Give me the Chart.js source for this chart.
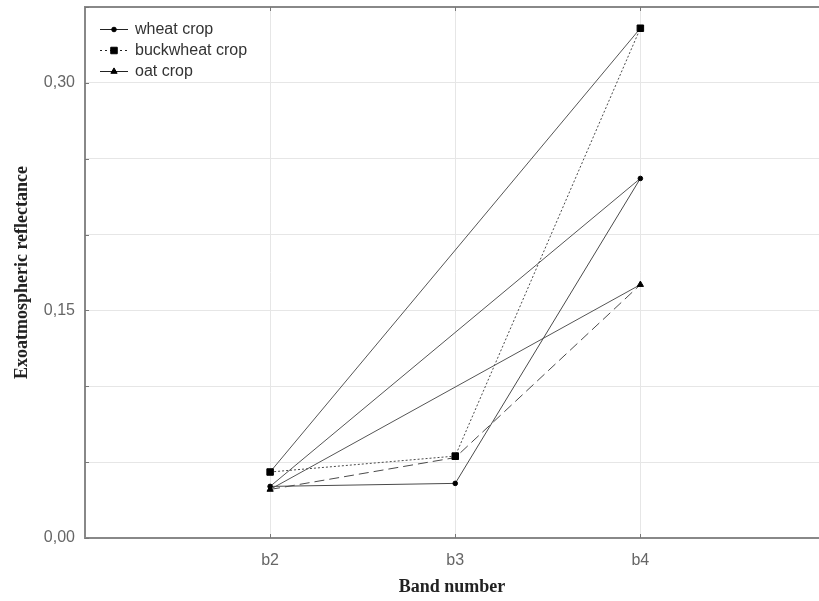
<!DOCTYPE html>
<html><head><meta charset="utf-8">
<script src="https://cdn.jsdelivr.net/npm/chart.js@4"></script>
<style>html,body{margin:0;padding:0;background:#fff}#wrap{width:819px;height:601px}</style>
</head><body><div id="wrap"><canvas id="c" width="819" height="601"></canvas></div>
<script>
const categories = ['b2','b3','b4'];
const wheat = [0.034, 0.036, 0.237];
const buckwheat = [0.0435, 0.054, 0.336];
const oat = [0.032, 0.053, 0.167];
const yTickLabels = [0.00, 0.15, 0.30];
const seriesNames = ['wheat crop','buckwheat crop','oat crop'];

const pts = arr => arr.map((v,i)=>({x:i+1,y:v}));
const ends = arr => [{x:1,y:arr[0]},{x:3,y:arr[2]}];

const lineCol = '#4a4a4a';
const styles = [
  {dash:[], ps:'circle', r:2.3},
  {dash:[2,2], ps:'rect', r:4.6},
  {dash:[10,5], ps:'triangle', r:3.6}
];
const series = [wheat, buckwheat, oat];
const datasets = [];
series.forEach((s,i)=>{
  datasets.push({label:seriesNames[i], data:pts(s), borderColor:lineCol, borderWidth:1, borderDash:styles[i].dash,
    pointStyle:styles[i].ps, pointRadius:styles[i].r, pointBackgroundColor:'#000', pointBorderColor:'#000', pointBorderWidth:1, tension:0});
});
series.forEach((s,i)=>{
  datasets.push({label:'_'+seriesNames[i], data:ends(s), borderColor:'#555', borderWidth:1, pointRadius:0, tension:0});
});

const sansFont = '"Liberation Sans", Arial, sans-serif';
const legendPlugin = {
  id:'customLegend',
  afterDraw(chart){
    const ctx = chart.ctx;
    const x0 = 100, y0 = 29, dy = 21;
    ctx.save();
    seriesNames.forEach((n,i)=>{
      const y = y0 + i*dy;
      ctx.strokeStyle = '#222'; ctx.lineWidth = 1;
      ctx.setLineDash(i===1?[2,3]:[]);
      ctx.beginPath(); ctx.moveTo(x0,y+0.5); ctx.lineTo(x0+28,y+0.5); ctx.stroke();
      ctx.setLineDash([]);
      ctx.fillStyle='#000'; ctx.strokeStyle='#000';
      Chart.helpers.drawPoint(ctx,{pointStyle:styles[i].ps, radius:styles[i].r, borderWidth:1}, x0+14, y+0.5);
      ctx.fillStyle = '#333';
      ctx.font = '16px ' + sansFont;
      ctx.textBaseline = 'middle';
      ctx.fillText(n, x0+35, y+1);
    });
    ctx.restore();
  }
};
const framePlugin = {
  id:'frame',
  afterDraw(chart){
    const a = chart.chartArea, ctx = chart.ctx;
    const xs = chart.scales.x, ys = chart.scales.y;
    ctx.save();
    ctx.strokeStyle='#888'; ctx.lineWidth=2;
    ctx.beginPath();
    ctx.moveTo(a.left, a.bottom); ctx.lineTo(a.left, a.top); ctx.lineTo(a.right, a.top);
    ctx.moveTo(a.left-1, a.bottom); ctx.lineTo(a.right, a.bottom);
    ctx.stroke();
    ctx.strokeStyle='#777'; ctx.lineWidth=1;
    ctx.beginPath();
    xs.ticks.forEach(t=>{ const p=Math.round(xs.getPixelForValue(t.value))+0.5;
      ctx.moveTo(p,a.bottom); ctx.lineTo(p,a.bottom-4); ctx.moveTo(p,a.top); ctx.lineTo(p,a.top+4); });
    ys.ticks.forEach(t=>{ const p=Math.round(ys.getPixelForValue(t.value))+0.5;
      ctx.moveTo(a.left,p); ctx.lineTo(a.left+4,p); });
    ctx.stroke();
    ctx.restore();
  }
};

new Chart(document.getElementById('c'), {
  type:'line',
  data:{datasets},
  options:{
    responsive:false, animation:false,
    layout:{autoPadding:false, padding:{top:7,right:0,left:0,bottom:0}},
    plugins:{legend:{display:false}, tooltip:{enabled:false}},
    scales:{
      x:{type:'linear', min:0, max:3.965,
        afterBuildTicks(sc){ sc.ticks = categories.map((c,i)=>({value:i+1})); },
        afterFit(sc){ sc.height = 63; sc.paddingLeft = 0; sc.paddingRight = 0; },
        ticks:{callback:(v)=>categories[v-1] ?? '', color:'#666', font:{size:16, family:sansFont}, padding:13, maxRotation:0},
        grid:{color:'#e6e6e6', drawTicks:false},
        border:{display:false},
        title:{display:true, text:'Band number', font:{family:'"Liberation Serif", "Times New Roman", serif', size:18, weight:'bold'}, color:'#222', padding:{top:0,bottom:3}}
      },
      y:{min:0, max:0.35,
        afterBuildTicks(sc){ const t=[]; for(let k=0;k<=7;k++) t.push({value:k*0.05}); sc.ticks=t; },
        afterFit(sc){ sc.width = 85; sc.paddingTop = 0; sc.paddingBottom = 0; },
        ticks:{callback:(v)=>{ const m = yTickLabels.find(t=>Math.abs(t-v)<1e-9); return m===undefined?'':m.toFixed(2).replace('.',','); },
          color:'#666', font:{size:16, family:sansFont}, padding:10},
        grid:{color:'#e6e6e6', drawTicks:false},
        border:{display:false},
        title:{display:true, text:'Exoatmospheric reflectance', font:{family:'"Liberation Serif", "Times New Roman", serif', size:18, weight:'bold'}, color:'#222', padding:{top:12,bottom:0}}
      }
    }
  },
  plugins:[legendPlugin, framePlugin]
});
</script></body></html>
